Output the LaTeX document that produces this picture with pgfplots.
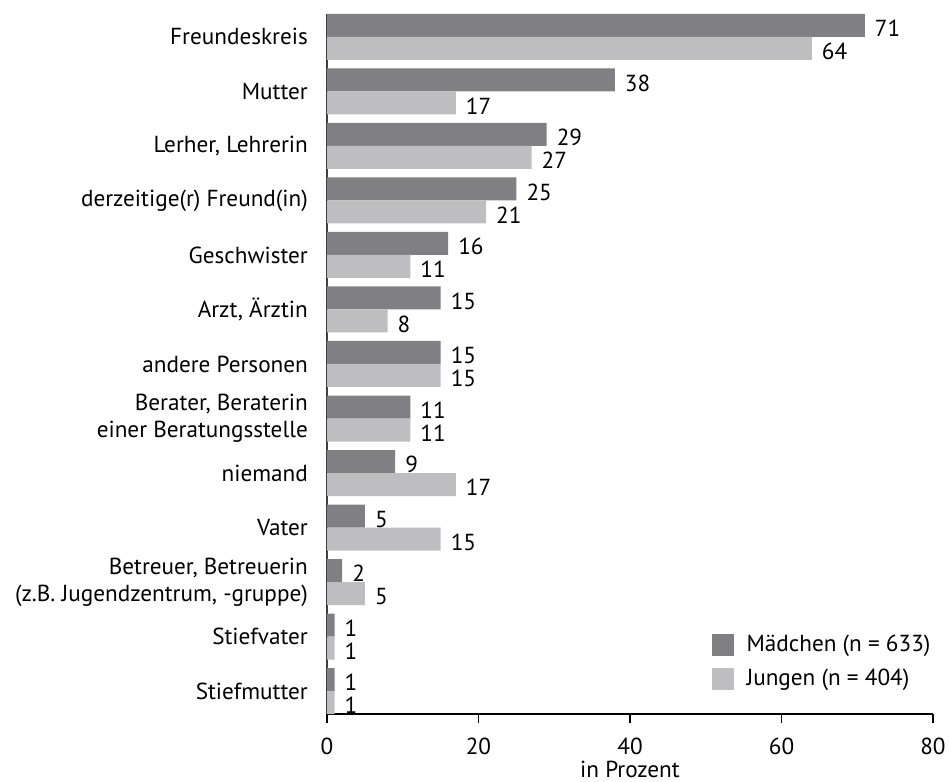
\documentclass[border=0pt]{standalone}
\usepackage{fontspec}
\setmainfont{PT Sans}
\usepackage{pgfplots}
\pgfplotsset{compat=1.18}
\definecolor{darkbar}{RGB}{128,128,132}
\definecolor{lightbar}{RGB}{190,190,193}

\begin{document}
\fontsize{11.6}{13.5}\selectfont
\begin{tikzpicture}
\begin{axis}[
    name=ax,
    scale only axis,
    width=303pt, height=350pt,
    xbar,
    bar width=11.5pt,
    xmin=0, xmax=80,
    ymin=-0.42, ymax=12.42,
    axis x line=bottom, axis y line=left,
    axis line style={-},
    x axis line style={black, line width=0.6pt},
    y axis line style={black!75, line width=1pt},
    xtick={0,20,40,60,80},
    tick align=outside,
    major tick length=4.5pt,
    xtick style={black, line width=0.6pt},
    ytick={0,...,12},
    ytick style={draw=none},
    yticklabels={Stiefmutter, Stiefvater,
        {Betreuer, Betreuerin\\(z.B. Jugendzentrum, -gruppe)},
        Vater, niemand,
        {Berater, Beraterin\\einer Beratungsstelle},
        andere Personen, {Arzt, Ärztin}, Geschwister,
        derzeitige(r) Freund(in), {Lerher, Lehrerin}, Mutter, Freundeskreis},
    yticklabel style={align=right, font=\fontsize{11.6}{13.5}\selectfont, xshift=-1pt},
    xticklabel style={font=\fontsize{11.6}{13.5}\selectfont, yshift=-3.5pt},
    /pgf/number format/assume math mode=true,
    xlabel={in Prozent},
    xlabel style={font=\fontsize{11.6}{13.5}\selectfont, yshift=5pt},
    nodes near coords,
    every node near coord/.append style={anchor=west, font=\fontsize{11.6}{13.5}\selectfont, xshift=1pt, yshift=-1.5pt},
    legend style={draw=none, fill=none, at={(rel axis cs:1.003,0.03)}, anchor=south east,
        font=\fontsize{11.6}{13.5}\selectfont, row sep=3pt, inner sep=0pt},
    legend cell align=left,
    legend image code/.code={\fill[#1] (0pt,-5.5pt) rectangle (11pt,5.5pt); \path (15.5pt,0pt);},
]
\addplot[draw=none, fill=darkbar, bar shift=5.75pt] coordinates {
    (71,12) (38,11) (29,10) (25,9) (16,8) (15,7) (15,6) (11,5) (9,4) (5,3) (2,2) (1,1) (1,0)};
\addplot[draw=none, fill=lightbar, bar shift=-5.75pt] coordinates {
    (64,12) (17,11) (27,10) (21,9) (11,8) (8,7) (15,6) (11,5) (17,4) (15,3) (5,2) (1,1) (1,0)};
\legend{Mädchen (n = 633), Jungen (n = 404)}
\end{axis}
\pgfresetboundingbox
\path[use as bounding box] ([xshift=-163.5pt, yshift=-33.5pt]ax.south west) rectangle ([xshift=8pt, yshift=7pt]ax.north east);
\end{tikzpicture}
\end{document}
